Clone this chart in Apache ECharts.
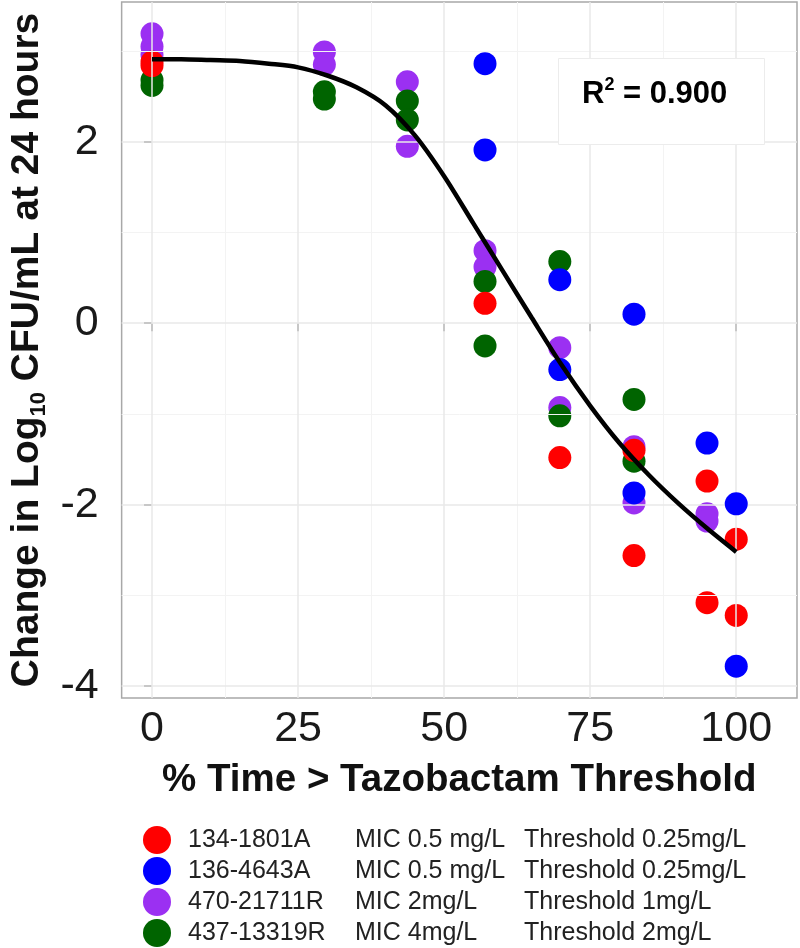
<!DOCTYPE html>
<html>
<head>
<meta charset="utf-8">
<script src="https://cdn.jsdelivr.net/npm/echarts@6/dist/echarts.min.js"></script>
<style>
html,body{margin:0;padding:0;background:#fff;}
#chart{width:800px;height:948px;}
</style>
</head>
<body>
<div id="chart"></div>
<script>
// ---- data ----
const strainNames = ['134-1801A', '136-4643A', '470-21711R', '437-13319R'];
const micLabels = ['MIC 0.5 mg/L', 'MIC 0.5 mg/L', 'MIC 2mg/L', 'MIC 4mg/L'];
const thresholdLabels = ['0.25mg/L', '0.25mg/L', '1mg/L', '2mg/L'];
const strainColors = ['#ff0000', '#0000ff', '#9b30f2', '#006400'];

const redX = [0, 0, 57, 69.8, 82.5, 82.5, 95, 95, 100, 100];
const redY = [2.88, 2.84, 0.22, -1.48, -1.40, -2.56, -1.74, -3.08, -2.38, -3.22];
const blueX = [57, 57, 69.8, 69.8, 82.5, 82.5, 95, 100, 100];
const blueY = [2.86, 1.91, 0.48, -0.51, 0.10, -1.87, -1.32, -1.99, -3.78];
const purpleX = [0, 0, 0, 29.5, 29.5, 43.7, 43.7, 57, 57, 69.8, 69.8, 82.5, 82.5, 95, 95];
const purpleY = [3.19, 3.05, 2.96, 2.99, 2.85, 2.66, 1.95, 0.80, 0.62, -0.27, -0.93, -1.36, -1.98, -2.10, -2.18];
const greenX = [0, 0, 29.5, 29.5, 43.7, 43.7, 57, 57, 69.8, 69.8, 82.5, 82.5];
const greenY = [2.68, 2.62, 2.55, 2.47, 2.45, 2.24, 0.46, -0.25, 0.68, -1.02, -0.84, -1.52];

// fitted curve, every 5 %
const curveX = [0, 5, 10, 15, 20, 25, 30, 35, 40, 45, 50, 55, 60, 65, 70, 75, 80, 85, 90, 95, 100];
const curveY = [2.91, 2.91, 2.90, 2.89, 2.86, 2.82, 2.73, 2.60, 2.40, 2.07, 1.62, 1.10, 0.58, 0.06, -0.45, -0.91, -1.32, -1.67, -1.98, -2.26, -2.52];

const xTicks = [0, 25, 50, 75, 100];
const xMinor = [12.5, 37.5, 62.5, 87.5];
const yTicks = [-4, -2, 0, 2];
const yMinor = [-3, -1, 1, 3];

const rSquaredText = '0.900';

// ---- build ----
function pairs(xs, ys) { return xs.map((x, i) => [x, ys[i]]); }

const FONT = '"Liberation Sans", Arial, Helvetica, sans-serif';

const chart = echarts.init(document.getElementById('chart'), null, { renderer: 'canvas' });

const gridMarks = []
  .concat(xMinor.map(v => ({ xAxis: v, lineStyle: { color: '#f3f3f3', width: 1, type: 'solid' } })))
  .concat(yMinor.map(v => ({ yAxis: v, lineStyle: { color: '#f3f3f3', width: 1, type: 'solid' } })))
  .concat(xTicks.map(v => ({ xAxis: v, lineStyle: { color: '#e8e8e8', width: 1.5, type: 'solid' } })))
  .concat(yTicks.map(v => ({ yAxis: v, lineStyle: { color: '#e8e8e8', width: 1.5, type: 'solid' } })));

function scatterSeries(idx, xs, ys, z) {
  return {
    name: strainNames[idx],
    type: 'scatter',
    data: pairs(xs, ys),
    symbol: 'circle',
    symbolSize: 23,
    itemStyle: { color: strainColors[idx], opacity: 1 },
    z: z,
    silent: true
  };
}

const option = {
  animation: false,
  backgroundColor: '#ffffff',
  grid: {
    left: 116, right: 3, top: 2, bottom: 250,
    show: true, borderColor: '#a8a8a8', borderWidth: 1.5, backgroundColor: '#ffffff'
  },
  xAxis: {
    type: 'value', min: -5.2, max: 110.4,
    axisLine: { show: false },
    splitLine: { show: false },
    axisTick: { show: true, length: 8, customValues: xTicks, lineStyle: { color: '#333', width: 1.5 } },
    axisLabel: { customValues: xTicks, fontSize: 43, color: '#1a1a1a', fontFamily: FONT, margin: 10 },
    name: '% Time > Tazobactam Threshold',
    nameLocation: 'middle',
    nameGap: 63,
    nameTextStyle: { fontSize: 38.5, fontWeight: 'bold', color: '#111', fontFamily: FONT }
  },
  yAxis: {
    type: 'value', min: -4.13, max: 3.54,
    axisLine: { show: false },
    splitLine: { show: false },
    axisTick: { show: true, length: 8, customValues: yTicks, lineStyle: { color: '#333', width: 1.5 } },
    axisLabel: { customValues: yTicks, fontSize: 43, color: '#1a1a1a', fontFamily: FONT, margin: 23 },
    name: '{b|Change in Log}{s|10}{b| CFU/mL at 24 hours}',
    nameLocation: 'middle',
    nameRotate: 90,
    nameGap: 72,
    nameTextStyle: {
      rich: {
        b: { fontSize: 39, fontWeight: 'bold', color: '#111', fontFamily: FONT, lineHeight: 44 },
        s: { fontSize: 22, fontWeight: 'bold', color: '#111', fontFamily: FONT, lineHeight: 24, verticalAlign: 'bottom' }
      }
    }
  },
  legend: {
    data: strainNames.slice(),
    orient: 'vertical',
    left: 138, top: 821, height: 160,
    icon: 'circle',
    itemWidth: 28, itemHeight: 28, itemGap: 3,
    selectedMode: false,
    formatter: function (name) {
      const i = strainNames.indexOf(name);
      return '{s| }{n|' + name + '}{m|' + micLabels[i] + '}{t|Threshold}{v|' + thresholdLabels[i] + '}';
    },
    textStyle: {
      fontSize: 25, color: '#222', fontFamily: FONT, lineHeight: 28,
      rich: {
        s: { width: 12, fontSize: 25, lineHeight: 28 },
        n: { width: 167, fontSize: 25, color: '#222', fontFamily: FONT, lineHeight: 28 },
        m: { width: 169, fontSize: 25, color: '#222', fontFamily: FONT, lineHeight: 28 },
        t: { width: 118, fontSize: 25, color: '#222', fontFamily: FONT, lineHeight: 28 },
        v: { fontSize: 25, color: '#222', fontFamily: FONT, lineHeight: 28 }
      }
    }
  },
  graphic: [
    {
      type: 'rect', left: 558, top: 58, z: 50,
      shape: { width: 206, height: 86 },
      style: { fill: '#ffffff', stroke: '#ececec', lineWidth: 1 }
    },
    {
      type: 'text', left: 582, top: 76, z: 51,
      style: {
        text: '{a|R}{p|2}{a| = ' + rSquaredText + '}',
        rich: {
          a: { fontSize: 31, fontWeight: 'bold', fill: '#000', fontFamily: FONT, lineHeight: 36 },
          p: { fontSize: 18, fontWeight: 'bold', fill: '#000', fontFamily: FONT, lineHeight: 20, verticalAlign: 'top' }
        }
      }
    }
  ],
  series: [
    {
      name: 'grid',
      type: 'line',
      data: [],
      z: 0,
      silent: true,
      markLine: { silent: true, symbol: 'none', label: { show: false }, animation: false, data: gridMarks }
    },
    scatterSeries(2, purpleX, purpleY, 2),
    scatterSeries(3, greenX, greenY, 3),
    scatterSeries(0, redX, redY, 4),
    scatterSeries(1, blueX, blueY, 5),
    {
      name: 'fit',
      type: 'line',
      data: pairs(curveX, curveY),
      smooth: 0.3,
      showSymbol: false,
      symbol: 'none',
      lineStyle: { color: '#000', width: 4.5 },
      z: 10,
      silent: true
    }
  ]
};

chart.setOption(option);
</script>
</body>
</html>
